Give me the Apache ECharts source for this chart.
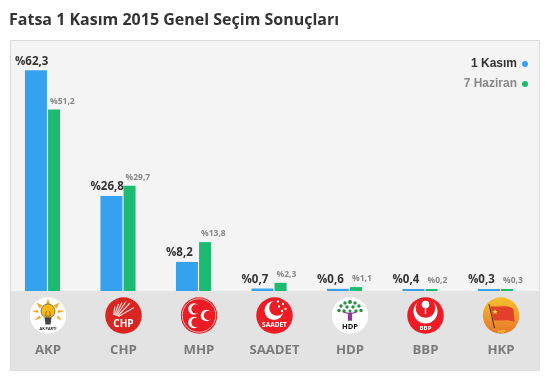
<!DOCTYPE html>
<html><head><meta charset="utf-8">
<style>html,body{margin:0;padding:0;background:#fff}#c{width:553px;height:388px}</style>
<script src="https://cdn.jsdelivr.net/npm/echarts@6/dist/echarts.min.js"></script>
</head><body><div id="c"></div>
<script>
const titleText = 'Fatsa 1 Kasım 2015 Genel Seçim Sonuçları';
const categories = ['AKP','CHP','MHP','SAADET','HDP','BBP','HKP'];
const kasim = [62.3,26.8,8.2,0.7,0.6,0.4,0.3];
const haziran = [51.2,29.7,13.8,2.3,1.1,0.2,0.3];
const seriesNames = ['1 Kasım','7 Haziran'];

function svg(body){return {image:'data:image/svg+xml;charset=utf-8,'+encodeURIComponent('<svg xmlns="http://www.w3.org/2000/svg" width="74" height="74" viewBox="0 0 74 74">'+body+'</svg>')};}
const T='font-family="Open Sans" font-weight="bold" text-anchor="middle"';
function cres(cx,cy,r,dx,dy,bg){return '<circle cx="'+cx+'" cy="'+cy+'" r="'+r+'" fill="#fff"/><circle cx="'+(cx+dx)+'" cy="'+(cy+dy)+'" r="'+(r*0.82)+'" fill="'+bg+'"/>';}
const logos = {
AKP:svg('<circle cx="37" cy="37" r="36.5" fill="#fff"/><g fill="#f5a623"><path d="M37 3L41 15H33Z"/><path d="M14 11L26 17L20 23Z"/><path d="M60 11L54 23L48 17Z"/><path d="M4 28L17 26V32Z"/><path d="M70 28L57 32V26Z"/><path d="M9 47L20 37L23 42Z"/><path d="M65 47L54 42L57 37Z"/></g><circle cx="37" cy="28" r="14" fill="#f8b90f" stroke="#4a4a3a" stroke-width="1.3"/><path d="M34 28L32 38H42L40 28" fill="none" stroke="#7a5a10" stroke-width="1.5"/><path d="M30 41H44L42 55H32Z" fill="#444"/><text x="37" y="66" '+T+' font-size="7.500" fill="#222">AK PARTİ</text>'),
CHP:svg('<circle cx="37" cy="37" r="36.5" fill="#da2620"/><g stroke="#f6dcdc" stroke-width="2.200"><path d="M17 36L20 19M19 36L27 14M21 37L34 11M23 37L42 9M25 38L50 12M27 39L58 21"/></g><text x="37" y="60" '+T+' font-size="20" fill="#fff">CHP</text>'),
MHP:svg('<circle cx="37" cy="37" r="36.5" fill="#ed1c24"/><circle cx="37" cy="37" r="33.500" fill="none" stroke="#fff" stroke-width="1.300"/>'+cres(27,24,11.5,4,0,'#ed1c24')+cres(27,51,11.5,4,0,'#ed1c24')+cres(52,37,11.5,4,0,'#ed1c24')),
SAADET:svg('<circle cx="37" cy="37" r="36.5" fill="#ed1c24"/>'+cres(36,27,19,6,-5,'#ed1c24')+'<g fill="#fff"><circle cx="44" cy="9" r="2.300"/><circle cx="54" cy="14" r="2.300"/><circle cx="46" cy="19" r="2.300"/><circle cx="59" cy="24" r="2.300"/><circle cx="52" cy="28" r="2.300"/></g><text x="37" y="60" '+T+' font-size="13" fill="#fff">SAADET</text>'),
HDP:svg('<circle cx="37" cy="37" r="36.5" fill="#fff"/><g fill="#2a8f3e"><circle cx="37" cy="10" r="4"/><circle cx="27" cy="12" r="3.500"/><circle cx="47" cy="12" r="3.500"/><circle cx="19" cy="18" r="3.500"/><circle cx="55" cy="18" r="3.500"/><circle cx="31" cy="20" r="3.500"/><circle cx="43" cy="20" r="3.500"/><circle cx="15" cy="27" r="3.500"/><circle cx="59" cy="27" r="3.500"/><circle cx="25" cy="28" r="3.500"/><circle cx="49" cy="28" r="3.500"/><circle cx="37" cy="28" r="3"/></g><path d="M34 46V32H40V46Z M37 34L24 30M37 34L50 30" fill="#8e3a96" stroke="#8e3a96" stroke-width="2.500"/><text x="37" y="64" '+T+' font-size="15" fill="#111">HDP</text>'),
BBP:svg('<circle cx="37" cy="37" r="36.5" fill="#ed1c24"/>'+cres(37,29,24,0,-7,'#ed1c24')+'<circle cx="37" cy="15" r="7.500" fill="#fff"/><path d="M37 20L37 34" stroke="#fff" stroke-width="2.500"/><text x="37" y="66" '+T+' font-size="12" fill="#fff">BBP</text>'),
HKP:svg('<defs><linearGradient id="g" x1="0" y1="0" x2="0" y2="1"><stop offset="0" stop-color="#f7c12c"/><stop offset="1" stop-color="#e8752a"/></linearGradient></defs><circle cx="37" cy="37" r="36.5" fill="url(#g)"/><path d="M13 14L24 62" stroke="#3a2a1a" stroke-width="2"/><path d="M16 18C30 22 46 14 62 24L64 50C48 42 34 50 22 46Z" fill="#e2402b"/><path d="M25 24l1.500 4h4l-3 2.500 1 4-3.500-2.500-3.500 2.500 1-4-3-2.500h4Z" fill="#f8d32a"/><text x="38" y="71" '+T+' font-size="8" fill="#f8d32a">HKP</text>')
};
const rich = {name:{fontFamily:'Open Sans',fontWeight:'bold',fontSize:13.2,color:'#7b7b7b',height:32,lineHeight:32,align:'center'}};
categories.forEach(c=>{rich[c]={width:37,height:37,align:'center',backgroundColor:logos[c]};});
const fmt = v=>'%'+String(v).replace('.',',');

const chart = echarts.init(document.getElementById('c'),null,{renderer:'canvas'});
chart.setOption({
  animation:false,
  backgroundColor:'#fff',
  title:{text:titleText,left:9,top:12,padding:0,textStyle:{fontFamily:'Open Sans',fontWeight:'bold',fontSize:16,color:'#333'}},
  graphic:[
    {type:'rect',z:-10,shape:{x:10.5,y:40.5,width:529,height:330},style:{fill:'#f4f4f4',stroke:'#dcdcdc',lineWidth:1}},
    {type:'rect',z:-9,shape:{x:11,y:291,width:528,height:79},style:{fill:'#e3e3e3'}}
  ],
  legend:{orient:'vertical',right:25,top:58,align:'right',icon:'circle',itemWidth:6,itemHeight:6,itemGap:8,padding:0,selectedMode:false,
    textStyle:{fontFamily:'Liberation Sans',fontWeight:'bold',fontSize:12,padding:[0,0,0,-1]},
    data:[{name:seriesNames[0],textStyle:{color:'#333'}},{name:seriesNames[1],textStyle:{color:'#888'}}]},
  grid:[
    {left:4.75,width:528.5,top:43,height:248},
    {left:10.25,width:528.5,top:43,height:248}
  ],
  xAxis:[
    {type:'category',gridIndex:0,data:categories,axisLine:{show:false},axisTick:{show:false},axisLabel:{show:false},splitLine:{show:false}},
    {type:'category',gridIndex:1,data:categories,axisLine:{show:false},axisTick:{show:false},splitLine:{show:false},
     axisLabel:{show:true,interval:0,margin:6,rich,formatter:v=>'{'+v+'|}\n{name|'+v+'}'}}
  ],
  yAxis:[
    {type:'value',gridIndex:0,min:0,max:70,show:false,splitLine:{show:false}},
    {type:'value',gridIndex:1,min:0,max:70,show:false,splitLine:{show:false}}
  ],
  series:[
    {name:seriesNames[0],type:'bar',data:kasim,barWidth:22,barGap:'5%',barMinHeight:2,itemStyle:{color:'#35a2ef'},
     label:{show:true,position:'top',distance:3,align:'left',offset:[-21,0],formatter:p=>fmt(p.value),fontFamily:'Open Sans',fontWeight:'bold',fontSize:11.5,color:'#333'}},
    {name:seriesNames[1],type:'bar',data:haziran,barWidth:12,barGap:'5%',barMinHeight:2,itemStyle:{color:'#1dbb72'},
     label:{show:true,position:'top',distance:4,align:'left',offset:[-4,0],formatter:p=>fmt(p.value),fontFamily:'Open Sans',fontWeight:'bold',fontSize:8.5,color:'#888'}}
  ]
});
</script></body></html>
